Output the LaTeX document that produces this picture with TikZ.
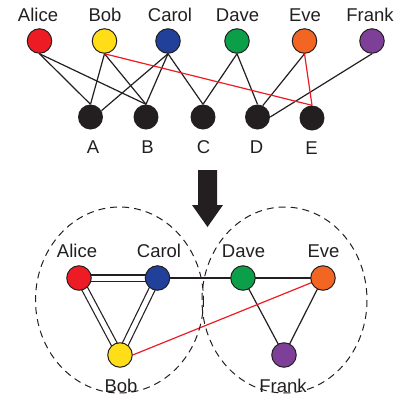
\documentclass[tikz,border=0pt]{standalone}
\usepackage{fontspec}
\setmainfont{Liberation Sans}
\usetikzlibrary{backgrounds}
\definecolor{cRed}{HTML}{ED1C24}
\definecolor{cYel}{HTML}{FFDE17}
\definecolor{cBlu}{HTML}{21409A}
\definecolor{cGrn}{HTML}{0B9F4A}
\definecolor{cOra}{HTML}{F26522}
\definecolor{cPur}{HTML}{7E3F98}
\definecolor{cBlk}{HTML}{231F20}
\tikzset{
  person/.style={circle,draw=cBlk,line width=1pt,minimum size=24.5pt,inner sep=0pt},
  item/.style={circle,fill=cBlk,minimum size=25pt,inner sep=0pt},
  lbl/.style={anchor=base,text=cBlk,inner sep=0pt,font=\fontsize{18.5}{20}\selectfont},
  edge/.style={draw=cBlk,line width=1.2pt},
  redge/.style={draw=cRed,line width=1.2pt},
  dedge/.style={draw=cBlk,line width=1.2pt,double=white,double distance=5pt},
  group/.style={draw=cBlk,line width=1pt,dash pattern=on 7pt off 5pt},
}
\begin{document}
\begin{tikzpicture}[x=1pt,y=-1pt]
\useasboundingbox (0,0) rectangle (399,400);
% top row
\node[person,fill=cRed] (a1) at (39.5,41) {};
\node[person,fill=cYel] (b1) at (104.5,41) {};
\node[person,fill=cBlu] (c1) at (168,41) {};
\node[person,fill=cGrn] (d1) at (237,41) {};
\node[person,fill=cOra] (e1) at (304.5,41) {};
\node[person,fill=cPur] (f1) at (372,41) {};
\node[lbl] (la1) at (38,21) {Alice};
\node[lbl] (lb1) at (105,21) {Bob};
\node[lbl] (lc1) at (170,21) {Carol};
\node[lbl] (ld1) at (237.5,21) {Dave};
\node[lbl] (le1) at (305,21) {Eve};
\node[lbl] (lf1) at (370,21) {Frank};
% items
\node[item] (A) at (90.5,117) {};
\node[item] (B) at (146,117) {};
\node[item] (C) at (203,117) {};
\node[item] (D) at (257.5,117) {};
\node[item] (E) at (312,118) {};
\node[lbl] (lA) at (93,153) {A};
\node[lbl] (lB) at (147.5,153) {B};
\node[lbl] (lC) at (203.5,153) {C};
\node[lbl] (lD) at (256.5,153) {D};
\node[lbl] (lE) at (311.5,154) {E};
\begin{scope}[on background layer]
\draw[edge] (a1.south) -- (A.north);
\draw[edge] (a1.south) -- (B.north);
\draw[edge] (b1.south) -- (A.north);
\draw[edge] (b1.south) -- (B.north);
\draw[edge] (c1.south) -- (A.30);
\draw[edge] (c1.south) -- (B.north);
\draw[edge] (c1.south) -- (C.north);
\draw[edge] (d1.south) -- (C.north);
\draw[edge] (d1.south) -- (D.north);
\draw[edge] (e1.south) -- (D.65);
\draw[edge] (f1.south) -- (D.east);
\draw[redge] (b1.south) -- (E.north);
\draw[redge] (e1.south) -- (E.north);
\end{scope}
% arrow
\fill[cBlk] (198,170) -- (217,170) -- (217,205) -- (223,205) -- (207.5,227) -- (192,205) -- (198,205) -- cycle;
% groups
\draw[group] (119.5,300) ellipse [x radius=84, y radius=93];
\draw[group] (284.5,300) ellipse [x radius=82.5, y radius=93];
% bottom graph
\node[person,fill=cRed] (a2) at (79,278) {};
\node[person,fill=cBlu] (c2) at (157.5,278) {};
\node[person,fill=cYel] (b2) at (120,355) {};
\node[person,fill=cGrn] (d2) at (243,278) {};
\node[person,fill=cOra] (e2) at (323,278) {};
\node[person,fill=cPur] (f2) at (284,355) {};
\node[lbl] (la2) at (77,257) {Alice};
\node[lbl] (lc2) at (159,257) {Carol};
\node[lbl] (ld2) at (243.5,257) {Dave};
\node[lbl] (le2) at (323.5,257) {Eve};
\node[lbl] (lb2) at (121,392) {Bob};
\node[lbl] (lf2) at (283,392) {Frank};
\begin{scope}[on background layer]
\draw[dedge] (a2.center) -- (c2.center);
\draw[dedge] (a2.center) -- (b2.center);
\draw[dedge] (c2.center) -- (b2.center);
\draw[edge] (c2.center) -- (d2.center);
\draw[edge] (d2.center) -- (e2.center);
\draw[edge] (d2.center) -- (f2.center);
\draw[edge] (e2.center) -- (f2.center);
\draw[redge] (b2.east) -- (e2.center);
\end{scope}
\end{tikzpicture}
\end{document}
